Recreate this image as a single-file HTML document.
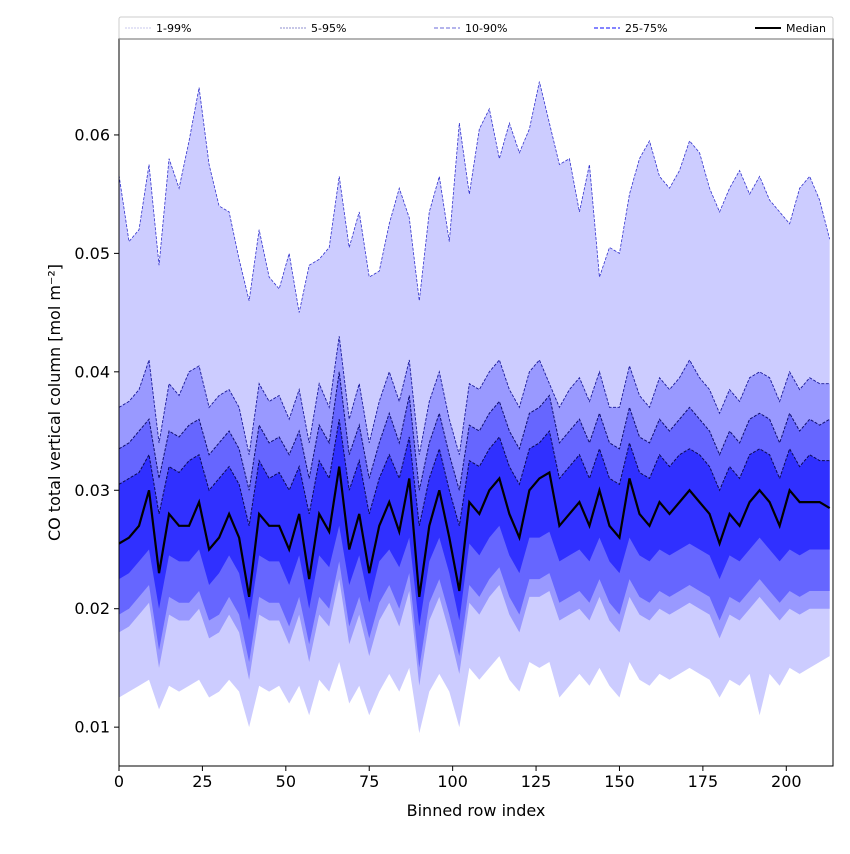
<!DOCTYPE html>
<html><head><meta charset="utf-8"><style>
body{margin:0;background:#fff;font-family:"DejaVu Sans","Liberation Sans",sans-serif}
</style></head><body>
<svg id="c" width="850" height="850" xmlns="http://www.w3.org/2000/svg" font-family="DejaVu Sans, Liberation Sans, sans-serif"></svg>
<script>
const p99=[.0566,.051,.052,.0575,.049,.058,.0555,.0595,.064,.0575,.054,.0535,.0495,.046,.052,.048,.047,.050,.045,.049,.0495,.0505,.0565,.0505,.0535,.048,.0485,.0525,.0555,.053,.046,.0535,.0565,.051,.061,.055,.0605,.0622,.058,.061,.0585,.0605,.0645,.061,.0575,.058,.0535,.0575,.048,.0505,.050,.055,.058,.0595,.0565,.0555,.057,.0595,.0585,.0555,.0535,.0555,.057,.055,.0565,.0545,.0535,.0525,.0555,.0565,.0545,.0512];
const p95=[.037,.0375,.0385,.041,.034,.039,.038,.040,.0405,.037,.038,.0385,.037,.033,.039,.0375,.038,.036,.0385,.034,.039,.037,.043,.036,.039,.034,.0375,.040,.0375,.041,.033,.0375,.040,.036,.033,.039,.0385,.040,.041,.0385,.037,.040,.041,.039,.037,.0385,.0395,.0375,.040,.037,.037,.0405,.038,.037,.0395,.0385,.0395,.041,.0395,.0385,.0365,.0385,.0375,.0395,.040,.0395,.0375,.040,.0385,.0395,.039,.039];
const p90=[.0335,.034,.035,.036,.031,.035,.0345,.0355,.036,.033,.034,.035,.0335,.030,.0355,.034,.0345,.033,.035,.031,.0355,.034,.040,.033,.0355,.031,.034,.0365,.034,.038,.030,.034,.0365,.033,.030,.0355,.035,.0365,.0375,.035,.0335,.0365,.037,.038,.034,.035,.036,.034,.0365,.034,.0335,.037,.0345,.034,.036,.035,.036,.037,.036,.035,.033,.035,.034,.036,.0365,.036,.034,.0365,.035,.036,.0355,.036];
const p75=[.0305,.031,.0315,.033,.028,.032,.0315,.0325,.033,.030,.031,.032,.0305,.027,.0325,.031,.0315,.030,.032,.028,.0325,.031,.036,.030,.0325,.028,.031,.033,.031,.0345,.027,.031,.0335,.030,.027,.0325,.032,.0335,.0345,.032,.0305,.0335,.034,.035,.031,.032,.033,.031,.0335,.031,.0305,.034,.0315,.031,.033,.032,.033,.0335,.033,.032,.030,.032,.031,.033,.0335,.033,.031,.0335,.032,.033,.0325,.0325];
const median=[.0255,.026,.027,.030,.023,.028,.027,.027,.029,.025,.026,.028,.026,.021,.028,.027,.027,.025,.028,.0225,.028,.0265,.032,.025,.028,.023,.027,.029,.0265,.031,.021,.027,.030,.026,.0215,.029,.028,.030,.031,.028,.026,.030,.031,.0315,.027,.028,.029,.027,.030,.027,.026,.031,.028,.027,.029,.028,.029,.030,.029,.028,.0255,.028,.027,.029,.030,.029,.027,.030,.029,.029,.029,.0285];
const p25=[.0225,.023,.024,.025,.020,.0245,.024,.024,.025,.022,.023,.0245,.023,.019,.0245,.024,.024,.022,.0245,.020,.0245,.0235,.027,.022,.0245,.0205,.024,.025,.0235,.026,.0185,.024,.026,.023,.019,.0255,.0245,.026,.027,.0245,.023,.026,.026,.0265,.024,.0245,.025,.024,.026,.024,.023,.026,.0245,.024,.025,.0245,.025,.0255,.025,.0245,.0225,.0245,.024,.025,.026,.025,.024,.025,.0245,.025,.025,.025];
const p10=[.0195,.020,.021,.022,.0165,.021,.0205,.0205,.0215,.019,.0195,.021,.0195,.0155,.021,.0205,.0205,.0185,.021,.017,.021,.020,.024,.0185,.021,.0175,.0205,.022,.020,.023,.015,.0205,.0225,.0195,.016,.022,.021,.0225,.0235,.021,.0195,.0225,.0225,.023,.0205,.021,.0215,.0205,.0225,.0205,.0195,.0225,.021,.0205,.0215,.021,.0215,.022,.0215,.021,.019,.021,.0205,.0215,.0225,.0215,.0205,.0215,.021,.0215,.0215,.0215];
const p5=[.018,.0185,.0195,.0205,.015,.0195,.019,.019,.020,.0175,.018,.0195,.018,.014,.0195,.019,.019,.017,.0195,.0155,.0195,.0185,.0225,.017,.0195,.016,.019,.0205,.0185,.0215,.0135,.019,.021,.018,.0145,.0205,.0195,.021,.022,.0195,.018,.021,.021,.0215,.019,.0195,.020,.019,.021,.019,.018,.021,.0195,.019,.020,.0195,.020,.0205,.020,.0195,.0175,.0195,.019,.020,.021,.020,.019,.020,.0195,.020,.020,.020];
const p1=[.0125,.013,.0135,.014,.0115,.0135,.013,.0135,.014,.0125,.013,.014,.013,.010,.0135,.013,.0135,.012,.0135,.011,.014,.013,.0155,.012,.0135,.011,.013,.0145,.013,.015,.0095,.013,.0145,.013,.010,.015,.014,.015,.016,.014,.013,.0155,.015,.0155,.0125,.0135,.0145,.0135,.015,.0135,.0125,.0155,.014,.0135,.0145,.014,.0145,.015,.0145,.014,.0125,.014,.0135,.0145,.011,.0145,.0135,.015,.0145,.015,.0155,.016];
const binStep=3;
const xTicks=[0,25,50,75,100,125,150,175,200];
const yTicks=[0.01,0.02,0.03,0.04,0.05,0.06];
const legendLabels=["1-99%","5-95%","10-90%","25-75%","Median"];

const NS="http://www.w3.org/2000/svg";
const svg=document.getElementById('c');
const L=119,R=833,T=39,B=766,XMAX=214,YMIN=0.00672,YMAX=0.0681;
const X=v=>L+(v/XMAX)*(R-L);
const Y=v=>B-(v-YMIN)/(YMAX-YMIN)*(B-T);
function mk(tag,attrs,parent){const e=document.createElementNS(NS,tag);for(const k in attrs)e.setAttribute(k,attrs[k]);(parent||svg).appendChild(e);return e;}
const n=Math.min(p99.length,p95.length,p90.length,p75.length,median.length,p25.length,p10.length,p5.length,p1.length);
const xs=[];for(let i=0;i<n;i++)xs.push(i*binStep);
const clip=mk('clipPath',{id:'pc'});mk('rect',{x:L,y:T,width:R-L,height:B-T},clip);
const g=mk('g',{'clip-path':'url(#pc)'});
function band(hi,lo,fill,name){
  let d='M'+xs.map((x,i)=>X(x)+','+Y(hi[i])).join('L');
  for(let i=n-1;i>=0;i--)d+='L'+X(xs[i])+','+Y(lo[i]);
  const p=mk('path',{d:d+'Z',fill:fill,stroke:'none'},g);
  
  
}
function line(arr,stroke,w,dash,name){
  const p=mk('path',{d:'M'+xs.map((x,i)=>X(x)+','+Y(arr[i])).join('L'),fill:'none',stroke:stroke,'stroke-width':w,'stroke-dasharray':dash||'none'},g);
  
  
}
band(p99,p1,'#ccccff','band-1-99');
band(p95,p5,'#9999ff','band-5-95');
band(p90,p10,'#6666ff','band-10-90');
band(p75,p25,'#3030ff','band-25-75');
line(p99,'#3333cc',0.8,'3,1.5','line-p99');
line(p95,'#1a1a99',0.9,'3,1.5','line-p95');
line(p90,'#10106e',1,'3,1.5','line-p90');
line(p75,'#0a0a55',1,'3,1.5','line-p75');
line(median,'#000',2.2,null,'median-line');
mk('rect',{x:L,y:T,width:R-L,height:B-T,fill:'none',stroke:'#000','stroke-width':1});
xTicks.forEach(t=>{
  mk('line',{x1:X(t),x2:X(t),y1:B,y2:B+5,stroke:'#000'});
  const e=mk('text',{x:X(t),y:B+21,'text-anchor':'middle','font-size':16});e.textContent=t;
  
  
});
yTicks.forEach(t=>{
  mk('line',{x1:L-5,x2:L,y1:Y(t),y2:Y(t),stroke:'#000'});
  const e=mk('text',{x:L-9,y:Y(t)+5.5,'text-anchor':'end','font-size':16});e.textContent=t.toFixed(2);
  
  
});
const xt=mk('text',{x:(L+R)/2,y:816,'text-anchor':'middle','font-size':16});xt.textContent='Binned row index';


const yt=mk('text',{x:0,y:0,'text-anchor':'middle','font-size':16,transform:`translate(60,${(T+B)/2}) rotate(-90)`});yt.textContent='CO total vertical column [mol m⁻²]';


// legend
const lg=mk('g',{});


mk('rect',{x:119,y:17,width:714,height:22,fill:'#fff',stroke:'#ccc','stroke-width':1,rx:2},lg);
mk('line',{x1:119,x2:833,y1:39,y2:39,stroke:'#888','stroke-width':1.2},lg);
const lstyles=[['#b8b8e8',0.8,'2,1'],['#6b6bc0',0.8,'2,1'],['#6a6ad8',1,'4,2'],['#3b3bff',1.2,'4,2'],['#000',2,'none']];
const lpos=[125,280,434,594,755];
legendLabels.forEach((lab,i)=>{
  const gi=mk('g',{},lg);
  
  
  mk('line',{x1:lpos[i],x2:lpos[i]+26,y1:28,y2:28,stroke:lstyles[i][0],'stroke-width':lstyles[i][1],'stroke-dasharray':lstyles[i][2]},gi);
  const t=mk('text',{x:lpos[i]+31,y:32,'font-size':11},gi);t.textContent=lab;
});
</script>
</body></html>
